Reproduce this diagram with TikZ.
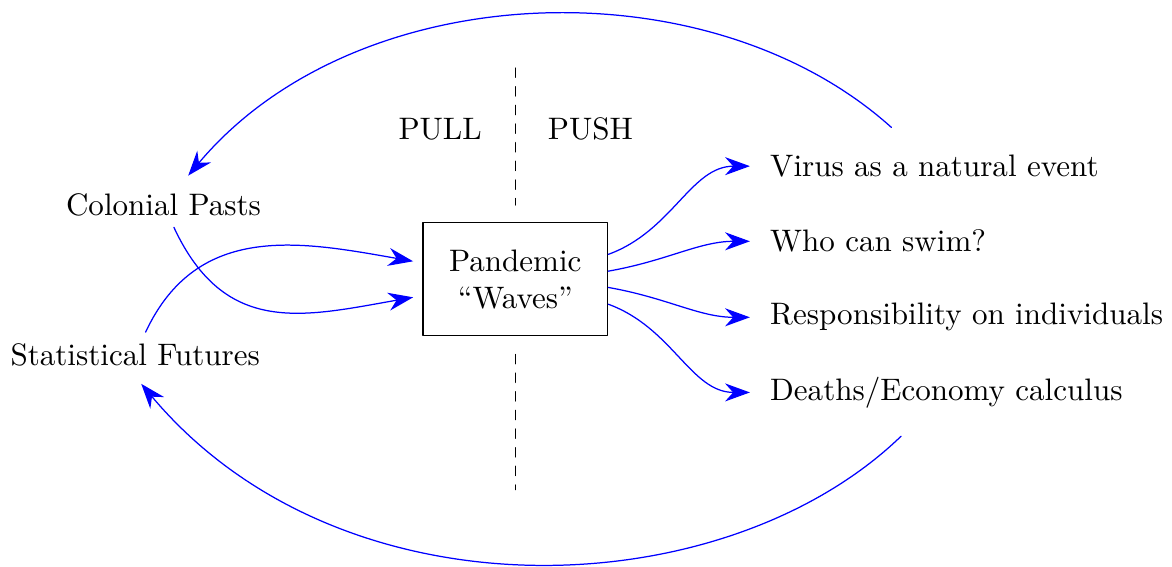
\documentclass[tikz,border=0pt]{standalone}
\usetikzlibrary{arrows.meta}
\begin{document}
\begin{tikzpicture}[>={Stealth[length=8pt,width=5.8pt]},line join=round,line cap=round,
	flowarr/.style={->,blue,shorten >=3pt},
	backarr/.style={flowarr,shorten <=8pt}]
	\useasboundingbox (-5.83,-3.25) rectangle (7.43,3.16);
	% centre box
	\node[draw,minimum width=2.09cm,minimum height=1.28cm,align=center] (W) at (0,0) {Pandemic\\``Waves''};
	% pull side
	\node (CP) at (-3.98,0.84) {Colonial Pasts};
	\node (SF) at (-4.30,-0.85) {Statistical Futures};
	\node (PULL) at (-0.85,1.70) {PULL};
	\node (PUSH) at (0.85,1.70) {PUSH};
	% push side
	\node[anchor=west] (R_1) at (2.76,1.28) {Virus as a natural event};
	\node[anchor=west] (R_2) at (2.76,0.43) {Who can swim?};
	\node[anchor=west] (R_3) at (2.76,-0.43) {Responsibility on individuals};
	\node[anchor=west] (R_4) at (2.76,-1.28) {Deaths/Economy calculus};
	\draw[dashed]
	(0,2.39)--(0,0.84) (0,-0.85)--(0,-2.38)
	;
	\draw[flowarr] (CP) to[out=-65,in=190,looseness=1.2] (W);
	\draw[flowarr] (SF) to[out=65,in=170,looseness=1.1] (W);
	\draw[flowarr] (W.15) to[out=20,in=180] (R_1.west);
	\draw[flowarr] (W.5) to[out=10,in=180] (R_2.west);
	\draw[flowarr] (W.-5) to[out=-10,in=180] (R_3.west);
	\draw[flowarr] (W.-15) to[out=-20,in=180] (R_4.west);
	% back to the pull side
	\draw[backarr] (R_1) to[out=138,in=50,looseness=0.95] (CP);
	\draw[backarr] (R_4) to[out=-136,in=-50,out looseness=0.88,in looseness=1.05] (SF.south);
\end{tikzpicture}
\end{document}
